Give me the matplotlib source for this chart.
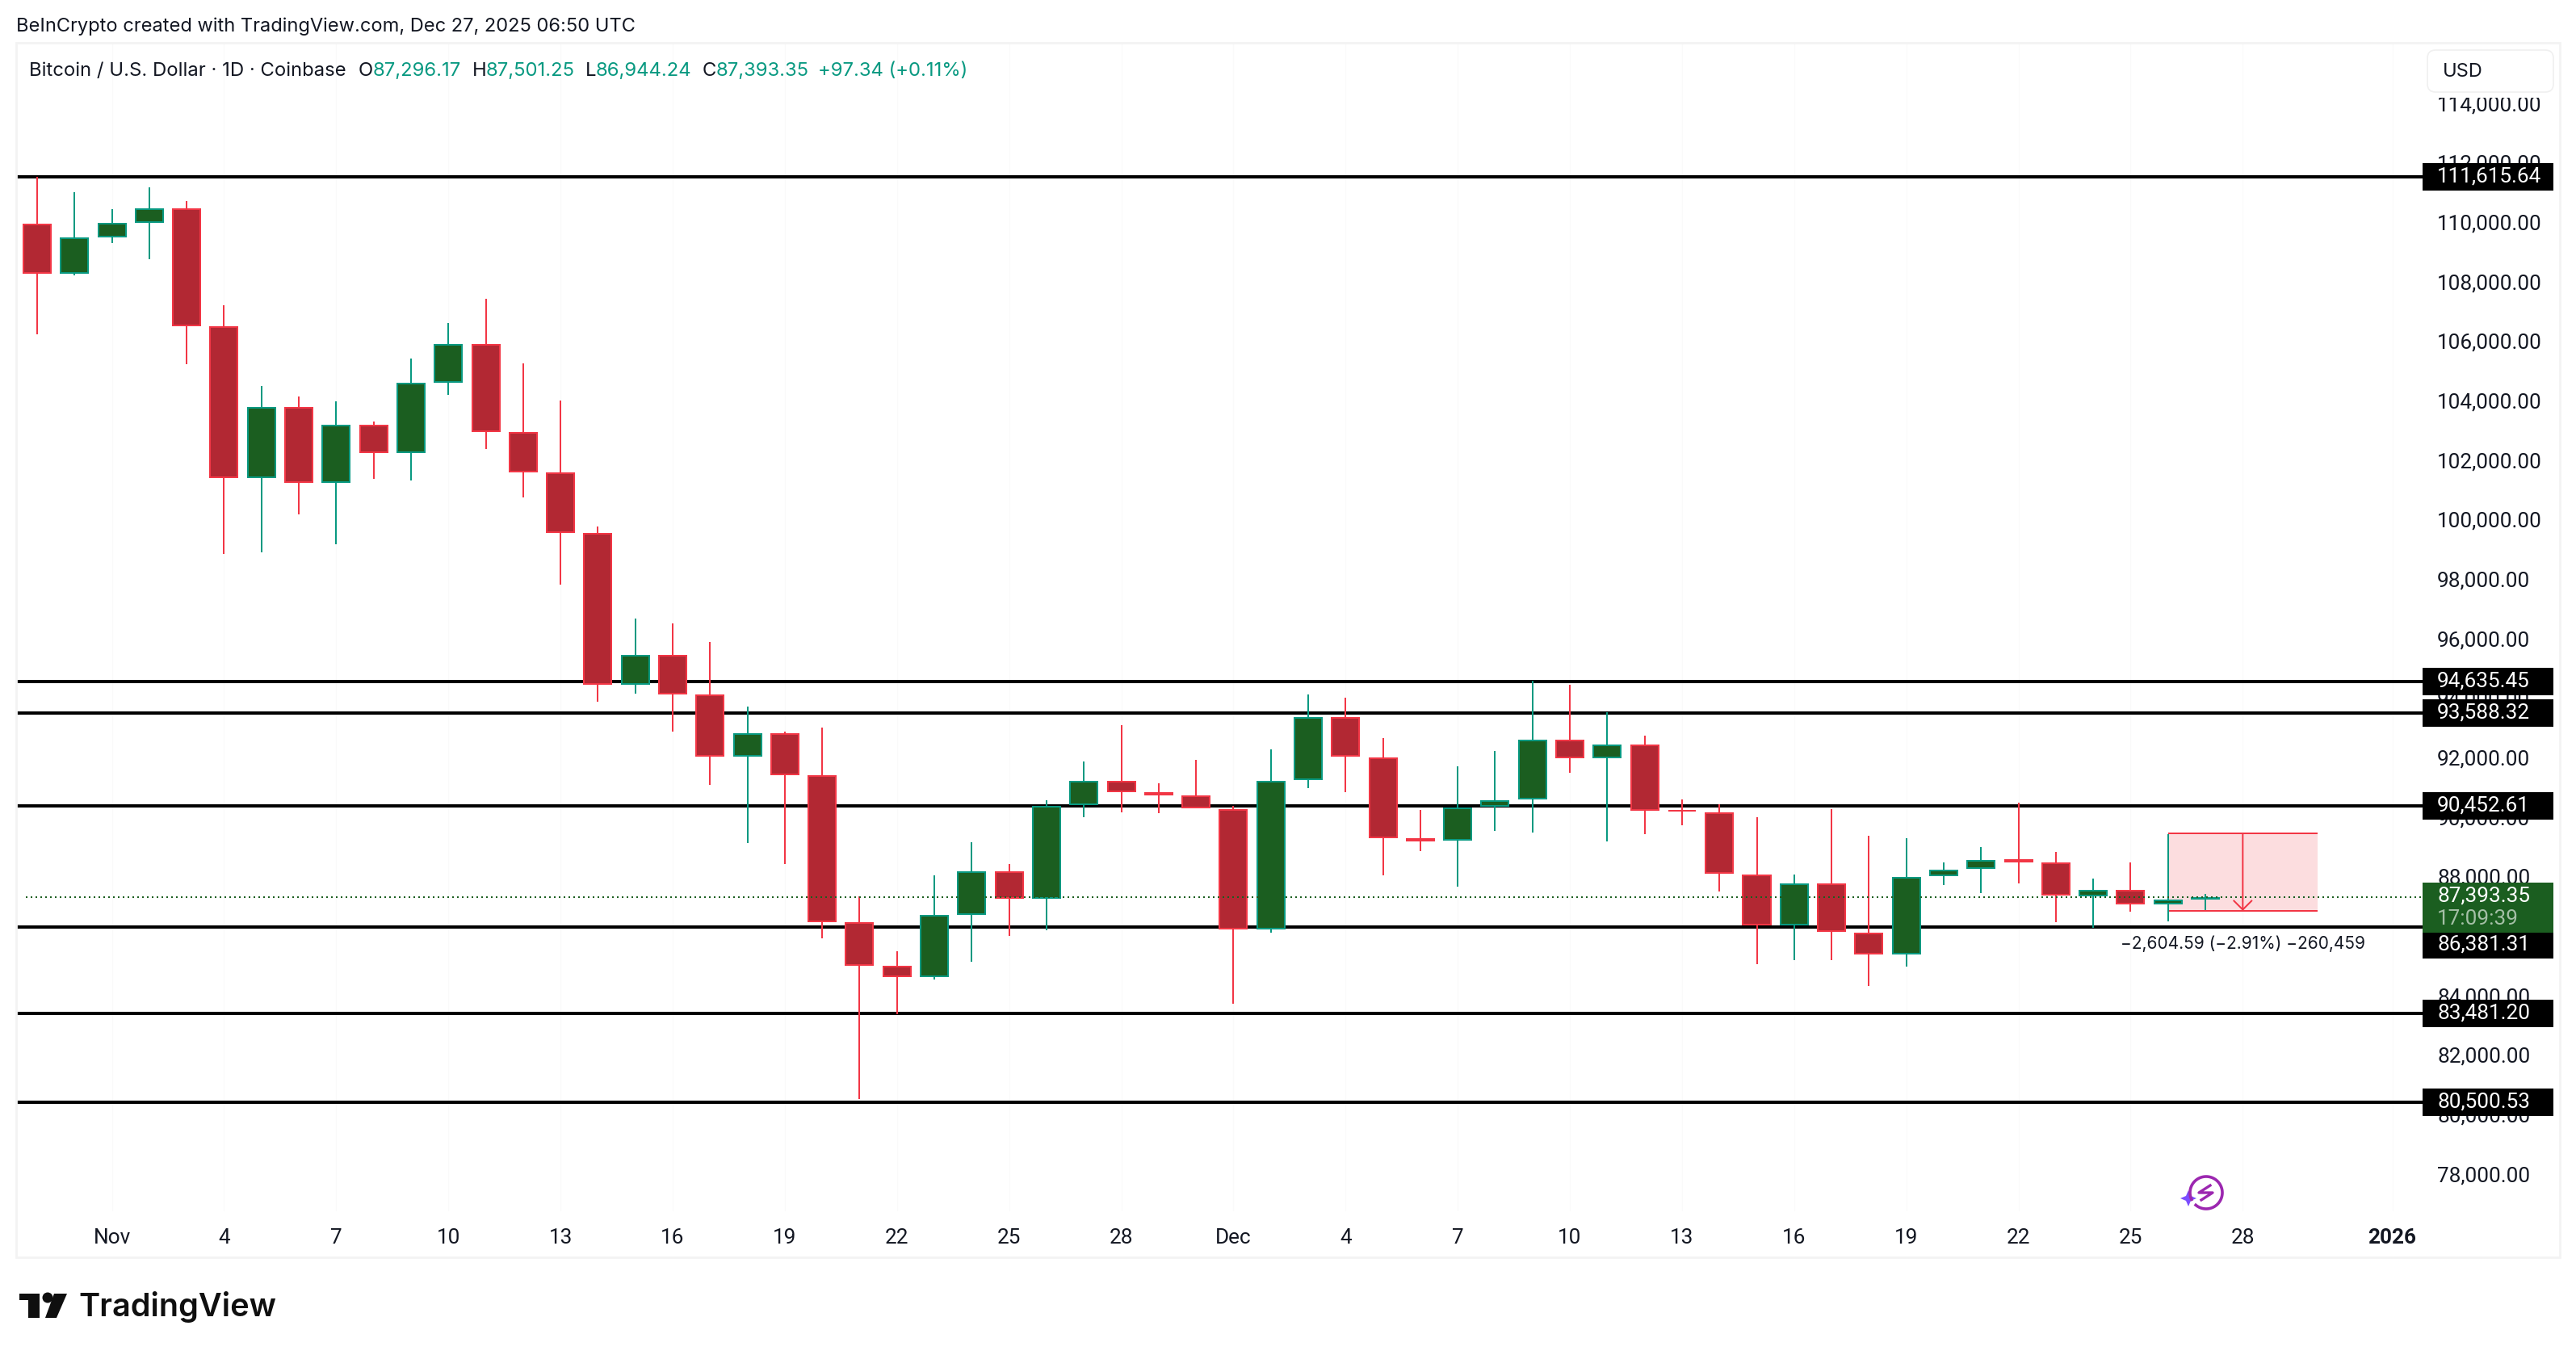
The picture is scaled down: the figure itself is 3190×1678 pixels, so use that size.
# plot.py - BTC/USD daily candles, TradingView look

import numpy as np
import matplotlib
matplotlib.use("Agg")
import matplotlib.pyplot as plt
from matplotlib.patches import FancyBboxPatch, Polygon, Rectangle, Circle
from matplotlib.transforms import blended_transform_factory, ScaledTranslation

plt.rcParams["font.family"] = ["Inter", "DejaVu Sans"]

# one value per day, first candle is Oct 30
opens = [110030, 108346, 109567, 110056, 110544, 106580, 101476, 103865, 101313, 103268,
         102318, 104680, 105983, 103023, 101666, 99630, 94526, 95530, 94200, 92109,
         92897, 91485, 86543, 85077, 84697, 86788, 88254, 87331, 90480, 91295,
         90915, 90806, 90344, 86299, 91322, 93440, 92082, 89367, 89286, 90426,
         90670, 92679, 92055, 92516, 90317, 90236, 88145, 86435, 87847, 86190,
         85457, 88091, 88335, 88661, 88553, 87412, 87629, 87141, 87296.17]
highs = [111600, 111087, 110517, 111250, 110788, 107286, 104571, 104218, 104055, 103376,
         105494, 106689, 107503, 105331, 104082, 99847, 96752, 96589, 95964, 93792,
         92951, 93087, 87412, 85566, 88118, 89231, 88498, 90643, 91946, 93168,
         91213, 92001, 90453, 92353, 94200, 94091, 92734, 90317, 91783, 92299,
         94661, 94526, 93602, 92815, 90670, 90507, 90073, 88145, 90344, 89448,
         89367, 88553, 89068, 90562, 88905, 88009, 88553, 89503, 87501.25]
lows = [106309, 108291, 109377, 108834, 105304, 98924, 98978, 100254, 99250, 101449,
        101394, 104272, 102453, 100824, 97892, 93955, 94227, 92951, 91159, 89204,
        88498, 86000, 80600, 83448, 84616, 85213, 86082, 86272, 90073, 90236,
        90209, 90372, 83801, 86190, 91050, 90915, 88118, 88933, 87738, 89611,
        89557, 91566, 89258, 89503, 89801, 87575, 85132, 85267, 85267, 84399,
        85050, 87792, 87521, 87847, 86543, 86353, 86896, 86571, 86944.24]
closes = [108346, 109567, 110056, 110544, 106580, 101476, 103865, 101313, 103268, 102318,
          104680, 105983, 103023, 101666, 99630, 94526, 95530, 94200, 92109, 92897,
          91485, 86543, 85077, 84697, 86788, 88254, 87331, 90453, 91295, 90915,
          90806, 90372, 86299, 91295, 93440, 92109, 89367, 89258, 90399, 90643,
          92679, 92055, 92516, 90290, 90263, 88172, 86435, 87847, 86218, 85457,
          88064, 88308, 88634, 88553, 87439, 87629, 87141, 87304, 87393.35]

niveaux = [111615.64, 94635.45, 93588.32, 90452.61, 86381.31, 83481.20, 80500.53]
niveaux_txt = ["111,615.64", "94,635.45", "93,588.32", "90,452.61", "86,381.31", "83,481.20", "80,500.53"]

prix_ticks = [78000 + 2000 * i for i in range(19)]
date_pos = [2, 5, 8, 11, 14, 17, 20, 23, 26, 29, 32, 35, 38, 41, 44, 47, 50, 53, 56, 59, 63]
date_txt = ["Nov", "4", "7", "10", "13", "16", "19", "22", "25", "28", "Dec",
            "4", "7", "10", "13", "16", "19", "22", "25", "28", "2026"]

prix_actuel = 87393.35
mesure_debut, mesure_fin = 57, 61
mesure_haut, mesure_bas = 89530, 86925

ROUGE = "#F23645"
ROUGE_FOND = "#B22833"
VERT = "#089981"
VERT_FOND = "#1B5E20"
TEXTE = "#131722"
PX = 27.152  # dollars par pixel
CHIFFRES = {"family": "Roboto", "fontsize": 18.8}  # chiffres de meme largeur

W, H = 3190, 1678
fig = plt.figure(figsize=(W / 100, H / 100), dpi=100, facecolor="white")

# axe principal : x = jours, y = prix
ax = fig.add_axes([20 / W, 1 - 1500 / H, 2980 / W, 1447 / H])
ax.set_xlim(-0.5617, 63.81)
ax.set_ylim(76822, 116111)
for s in ax.spines.values():
    s.set_visible(False)

ax.yaxis.tick_right()
ax.set_yticks(prix_ticks)
ax.set_yticklabels([f"{p:,.2f}" for p in prix_ticks], color=TEXTE, ha="left", **CHIFFRES)
ax.tick_params(axis="y", length=0, pad=13)
decale = ScaledTranslation(0, 3 / 100, fig.dpi_scale_trans)
for lab in ax.get_yticklabels():
    lab.set_transform(lab.get_transform() + decale)
ax.set_xticks(date_pos)
ax.set_xticklabels(date_txt, color=TEXTE, **CHIFFRES)
ax.get_xticklabels()[-1].set_fontweight("bold")
ax.tick_params(axis="x", length=0, pad=15)
ax.grid(axis="x", color="#fafafa", linewidth=1.0)
ax.set_axisbelow(True)

# niveaux horizontaux
ax.hlines(niveaux, -0.5617, 63.81, color="black", linewidth=2.9, zorder=2)

# outil de mesure
ax.add_patch(Rectangle((mesure_debut, mesure_bas), mesure_fin - mesure_debut, mesure_haut - mesure_bas,
                       facecolor=ROUGE, alpha=0.17, linewidth=0, zorder=1))
ax.hlines([mesure_haut, mesure_bas], mesure_debut, mesure_fin, color=ROUGE, linewidth=1.44, zorder=2.5)
ax.annotate("", xy=(59, mesure_bas), xytext=(59, mesure_haut),
            arrowprops=dict(arrowstyle="->,head_length=8,head_width=8", mutation_scale=1,
                            color=ROUGE, linewidth=1.44, shrinkA=0, shrinkB=0), zorder=2.5)
ax.text(59, mesure_bas - 1120, "\u22122,604.59 (\u22122.91%) \u2212260,459", fontsize=15, color=TEXTE,
        ha="center", va="center")

# bougies
jours = np.arange(len(opens))
o = np.array(opens)
c = np.array(closes)
hausse = c >= o
couleurs = [VERT if h else ROUGE for h in hausse]
fonds = [VERT_FOND if h else ROUGE_FOND for h in hausse]
ax.vlines(jours, lows, highs, color=couleurs, linewidth=1.44, zorder=3)
bas = np.minimum(o, c)
haut = np.maximum(o, c)
ax.bar(jours, np.maximum(haut - bas - 2 * PX, 1), bottom=bas + PX, width=0.735,
       color=fonds, edgecolor=couleurs, linewidth=1.44, zorder=3.2)

# ligne du dernier prix
ax.plot([-0.3, 63.81], [prix_actuel, prix_actuel], color=VERT_FOND, linewidth=1.44,
        dashes=(1, 2), dash_capstyle="butt", zorder=4)

# etiquettes de prix a droite
mix = blended_transform_factory(ax.transAxes, ax.transData)
bx = 1.0
bw = 162 / 2980
bh = 34 * PX
for p, t in zip(niveaux, niveaux_txt):
    yc = p if p != 86381.31 else p - 22 * PX
    ax.add_patch(Rectangle((bx, yc - bh / 2), bw, bh, transform=mix, facecolor="black",
                           linewidth=0, clip_on=False, zorder=6))
    ax.text(bx + 18 / 2980, yc, t, transform=mix, color="white", ha="left",
            va="center", clip_on=False, zorder=7, **CHIFFRES)

ax.add_patch(Rectangle((bx, 86190), bw, 62 * PX, transform=mix,
                       facecolor=VERT_FOND, linewidth=0, clip_on=False, zorder=6))
ax.text(bx + 18 / 2980, prix_actuel + 1 * PX, f"{prix_actuel:,.2f}", transform=mix, color="white",
        ha="left", va="center", clip_on=False, zorder=7, **CHIFFRES)
ax.text(bx + 18 / 2980, prix_actuel - 27 * PX, "17:09:39", transform=mix, color="#a4bfa6",
        ha="left", va="center", clip_on=False, zorder=7, **CHIFFRES)

# couche en pixels pour le cadre, les textes du haut et le logo
top = fig.add_axes([0, 0, 1, 1], zorder=10)
top.set_xlim(0, W)
top.set_ylim(H, 0)
top.axis("off")
top.patch.set_alpha(0)

top.add_patch(Rectangle((20, 53), 3150, 1504, fill=False, edgecolor="#f3f3f3", linewidth=2))

top.add_patch(Rectangle((3006, 56), 158, 65, facecolor="white", linewidth=0))
top.add_patch(FancyBboxPatch((3006, 62), 156, 52, boxstyle="round,pad=0,rounding_size=10",
                             facecolor="white", edgecolor="#f0f0f0", linewidth=1.2))
top.text(3025, 89, "USD", fontsize=17, color=TEXTE, va="center", ha="left")

top.text(20, 33, "BeInCrypto created with TradingView.com, Dec 27, 2025 06:50 UTC",
         fontsize=17, color=TEXTE, va="center", ha="left")

top.text(36, 88, "Bitcoin / U.S. Dollar \u00b7 1D \u00b7 Coinbase", fontsize=17.2, color=TEXTE,
         va="center", ha="left")
for x, lettre in [(444, "O"), (585, "H"), (725, "L"), (870, "C")]:
    top.text(x, 88, lettre, fontsize=17.2, color=TEXTE, va="center", ha="left")
for x, val in [(462, "87,296.17"), (602, "87,501.25"), (738, "86,944.24"), (887, "87,393.35"),
               (1013, "+97.34 (+0.11%)")]:
    top.text(x, 88, val, fontsize=17.2, color=VERT, va="center", ha="left")

# logo TradingView
top.add_patch(Polygon([(24, 1602), (48.5, 1602), (48.5, 1632), (35, 1632), (35, 1610), (24, 1610)],
                      facecolor="#0f0f0f", linewidth=0))
top.add_patch(Circle((59, 1607), 6.5, facecolor="#0f0f0f", linewidth=0))
top.add_patch(Polygon([(67, 1602), (83, 1602), (70, 1632), (56, 1632)], facecolor="#0f0f0f", linewidth=0))
top.text(97, 1619, "TradingView", fontsize=28.6, fontweight="semibold", color="#0f0f0f", va="center", ha="left")

# pastille violette
t = np.radians(np.linspace(-205, 130, 80))
top.plot(2732 + 20 * np.cos(t), 1477 + 20 * np.sin(t), color="#9C27B0", linewidth=2.6)
top.plot([2737, 2723, 2740, 2726], [1468, 1477, 1477, 1486], color="#9C27B0", linewidth=2.4)
top.add_patch(Polygon([(2710, 1474), (2713, 1481), (2720, 1484), (2713, 1487), (2710, 1494),
                       (2707, 1487), (2700, 1484), (2707, 1481)], facecolor="#7B4DFF", linewidth=0))

fig.savefig("out.png", dpi=100, facecolor="white")
